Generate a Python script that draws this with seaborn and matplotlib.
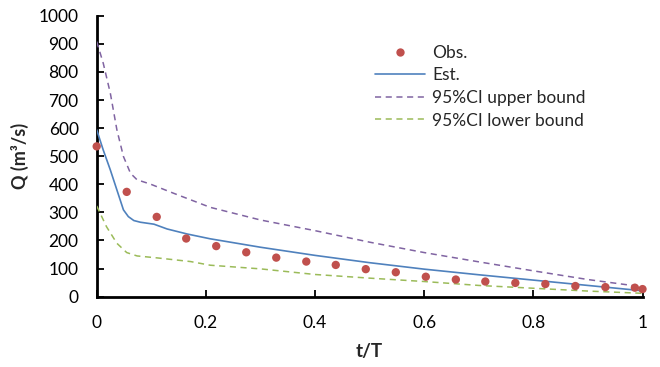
import matplotlib
matplotlib.use("Agg")
import matplotlib.pyplot as plt
import seaborn as sns
import pandas as pd
from matplotlib.lines import Line2D

# ---- data ----
obs_t = [0, 0.055, 0.11, 0.164, 0.219, 0.274, 0.329, 0.384, 0.438, 0.493,
         0.548, 0.603, 0.658, 0.712, 0.767, 0.822, 0.877, 0.932, 0.986, 1.0]
obs_q = [535, 373, 284, 207, 180, 158, 139, 125, 113, 98,
         87, 71, 61, 54, 49, 45, 38, 34, 32, 27]

est_t = [0, 0.012, 0.025, 0.037, 0.049, 0.058, 0.068, 0.08, 0.105, 0.129,
         0.166, 0.208, 0.3, 0.4, 0.5, 0.6, 0.7, 0.8, 0.9, 1.0]
est_q = [594, 522, 451, 380, 309, 285, 271, 265, 258, 241,
         223, 206, 176, 147, 121, 98, 78, 59, 40, 21]

up_t = [0, 0.012, 0.025, 0.037, 0.049, 0.062, 0.074, 0.098, 0.141, 0.208,
        0.3, 0.4, 0.5, 0.6, 0.7, 0.8, 0.9, 1.0]
up_q = [908, 831, 724, 594, 499, 439, 416, 401, 368, 318,
        273, 235, 194, 157, 124, 92, 61, 35]

lo_t = [0, 0.018, 0.037, 0.055, 0.074, 0.111, 0.172, 0.208,
        0.3, 0.4, 0.5, 0.6, 0.7, 0.8, 0.9, 1.0]
lo_q = [323, 249, 190, 157, 145, 138, 125, 112,
        99, 79, 66, 54, 40, 30, 20, 12]

x_ticks = [0, 0.2, 0.4, 0.6, 0.8, 1.0]
x_tick_labels = ["0", "0.2", "0.4", "0.6", "0.8", "1"]
y_ticks = list(range(0, 1001, 100))

labels = ["Obs.", "Est.", "95%CI upper bound", "95%CI lower bound"]
colors = {"obs": "#C0504D", "est": "#4F81BD", "up": "#8064A2", "lo": "#9BBB59"}

sns.set_style("white")
plt.rcParams["font.family"] = ["Lato", "DejaVu Sans"]

fig = plt.figure(figsize=(6.6, 3.67), dpi=100)
ax = fig.add_axes([0.1465, 0.1916, 0.9735 - 0.1465, 0.9572 - 0.1916])

df_est = pd.DataFrame({"t": est_t, "q": est_q})
df_up = pd.DataFrame({"t": up_t, "q": up_q})
df_lo = pd.DataFrame({"t": lo_t, "q": lo_q})
df_obs = pd.DataFrame({"t": obs_t, "q": obs_q})

sns.lineplot(data=df_up, x="t", y="q", ax=ax, color=colors["up"], lw=1.1,
             estimator=None, linestyle=(0, (4, 3)), zorder=3)
sns.lineplot(data=df_lo, x="t", y="q", ax=ax, color=colors["lo"], lw=1.1,
             estimator=None, linestyle=(0, (4, 3)), zorder=3)
sns.lineplot(data=df_est, x="t", y="q", ax=ax, color=colors["est"], lw=1.2,
             estimator=None, zorder=3)
sns.scatterplot(data=df_obs, x="t", y="q", ax=ax, color=colors["obs"], s=36,
                edgecolor="none", zorder=5, clip_on=False)

ax.set_xlim(0, 1)
ax.set_ylim(0, 1000)
ax.set_xticks(x_ticks)
ax.set_xticklabels(x_tick_labels)
ax.set_yticks(y_ticks)
for s in ["top", "right"]:
    ax.spines[s].set_visible(False)
for s in ["left", "bottom"]:
    ax.spines[s].set_color("black")
    ax.spines[s].set_linewidth(2)
ax.tick_params(axis="both", direction="in", length=5, width=1.3, color="black",
               labelsize=12.5, labelcolor="black", pad=13,
               left=True, bottom=True)
ax.set_xlabel("t/T", fontsize=13.5, fontweight="bold", labelpad=9)
ax.set_ylabel("Q (m³/s)", fontsize=13, fontweight="bold", labelpad=7)

handles = [
    Line2D([], [], marker="o", ls="none", color=colors["obs"], markersize=6,
           markeredgewidth=0),
    Line2D([], [], color=colors["est"], lw=1.2),
    Line2D([], [], color=colors["up"], lw=1.1, ls=(0, (4, 3))),
    Line2D([], [], color=colors["lo"], lw=1.1, ls=(0, (4, 3))),
]
fig.legend(handles, labels, loc="upper left", bbox_to_anchor=(0.568, 0.878),
           frameon=False, fontsize=12.5, handlelength=2.9, handletextpad=0.4,
           labelspacing=0.38, borderaxespad=0, borderpad=0)

fig.savefig("out.png", dpi=100)
